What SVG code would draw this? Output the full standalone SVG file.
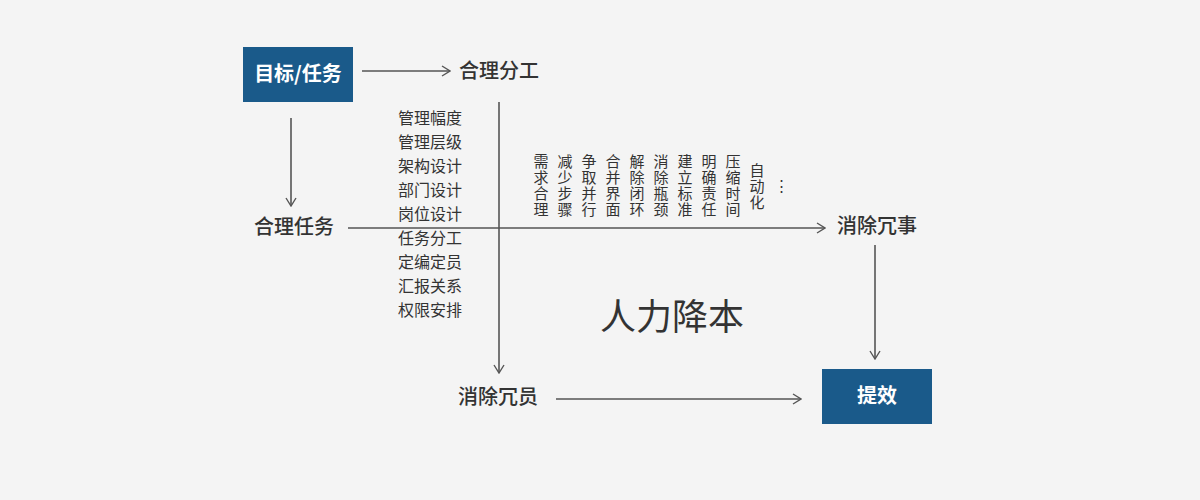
<svg xmlns="http://www.w3.org/2000/svg" width="1200" height="500" viewBox="0 0 1200 500">
<style>
text{font-family:"Noto Sans CJK SC","Noto Sans",sans-serif;fill:#333}
.n{font-size:20px;font-weight:500}
.w{fill:#fff;font-size:20px;font-weight:bold}
.l{font-size:16px}
.c{font-size:15px;text-anchor:middle}
.ln{stroke:#555;stroke-width:1.6;fill:none}
</style>
<defs><marker id="a" viewBox="0 0 10 12" refX="9" refY="6" markerWidth="10" markerHeight="12" markerUnits="userSpaceOnUse" orient="auto"><path d="M1,1 L9,6 L1,11" fill="none" stroke="#555" stroke-width="1.4"/></marker></defs>
<rect width="1200" height="500" fill="#f4f4f4"/>
<g id="connectors">
<line class="ln" x1="362" y1="71" x2="450" y2="71" marker-end="url(#a)"/>
<line class="ln" x1="291" y1="118" x2="291" y2="206" marker-end="url(#a)"/>
<line class="ln" x1="499" y1="102" x2="499" y2="373" marker-end="url(#a)"/>
<line class="ln" x1="348" y1="228" x2="825" y2="228" marker-end="url(#a)"/>
<line class="ln" x1="875" y1="245" x2="875" y2="359" marker-end="url(#a)"/>
<line class="ln" x1="556" y1="399" x2="801" y2="399" marker-end="url(#a)"/>
</g>
<g id="n1"><rect x="243" y="47" width="110" height="55" fill="#1a5a8a"/><text class="w" x="298" y="81" text-anchor="middle">目标/任务</text></g>
<g id="n2"><text class="n" x="459" y="78">合理分工</text></g>
<g id="n3"><text class="n" x="254" y="234">合理任务</text></g>
<g id="n4"><text class="n" x="837" y="233">消除冗事</text></g>
<g id="n5"><text class="n" x="458" y="404">消除冗员</text></g>
<g id="n6"><rect x="822" y="369" width="110" height="55" fill="#1a5a8a"/><text class="w" x="877" y="403" text-anchor="middle">提效</text></g>
<g id="list">
<text class="l" x="398" y="124">管理幅度</text>
<text class="l" x="398" y="148">管理层级</text>
<text class="l" x="398" y="172">架构设计</text>
<text class="l" x="398" y="196">部门设计</text>
<text class="l" x="398" y="220">岗位设计</text>
<text class="l" x="398" y="244">任务分工</text>
<text class="l" x="398" y="268">定编定员</text>
<text class="l" x="398" y="292">汇报关系</text>
<text class="l" x="398" y="316">权限安排</text>
</g>
<g id="cols">
<text class="c" x="541" y="167">需</text><text class="c" x="541" y="183">求</text><text class="c" x="541" y="199">合</text><text class="c" x="541" y="215">理</text>
<text class="c" x="565" y="167">减</text><text class="c" x="565" y="183">少</text><text class="c" x="565" y="199">步</text><text class="c" x="565" y="215">骤</text>
<text class="c" x="589" y="167">争</text><text class="c" x="589" y="183">取</text><text class="c" x="589" y="199">并</text><text class="c" x="589" y="215">行</text>
<text class="c" x="613" y="167">合</text><text class="c" x="613" y="183">并</text><text class="c" x="613" y="199">界</text><text class="c" x="613" y="215">面</text>
<text class="c" x="637" y="167">解</text><text class="c" x="637" y="183">除</text><text class="c" x="637" y="199">闭</text><text class="c" x="637" y="215">环</text>
<text class="c" x="661" y="167">消</text><text class="c" x="661" y="183">除</text><text class="c" x="661" y="199">瓶</text><text class="c" x="661" y="215">颈</text>
<text class="c" x="685" y="167">建</text><text class="c" x="685" y="183">立</text><text class="c" x="685" y="199">标</text><text class="c" x="685" y="215">准</text>
<text class="c" x="709" y="167">明</text><text class="c" x="709" y="183">确</text><text class="c" x="709" y="199">责</text><text class="c" x="709" y="215">任</text>
<text class="c" x="733" y="167">压</text><text class="c" x="733" y="183">缩</text><text class="c" x="733" y="199">时</text><text class="c" x="733" y="215">间</text>
<text class="c" x="757" y="176">自</text><text class="c" x="757" y="192">动</text><text class="c" x="757" y="208">化</text>
<text class="c" x="781" y="191">⋮</text>
</g>
<text x="672" y="330" font-size="36" text-anchor="middle">人力降本</text>
</svg>
